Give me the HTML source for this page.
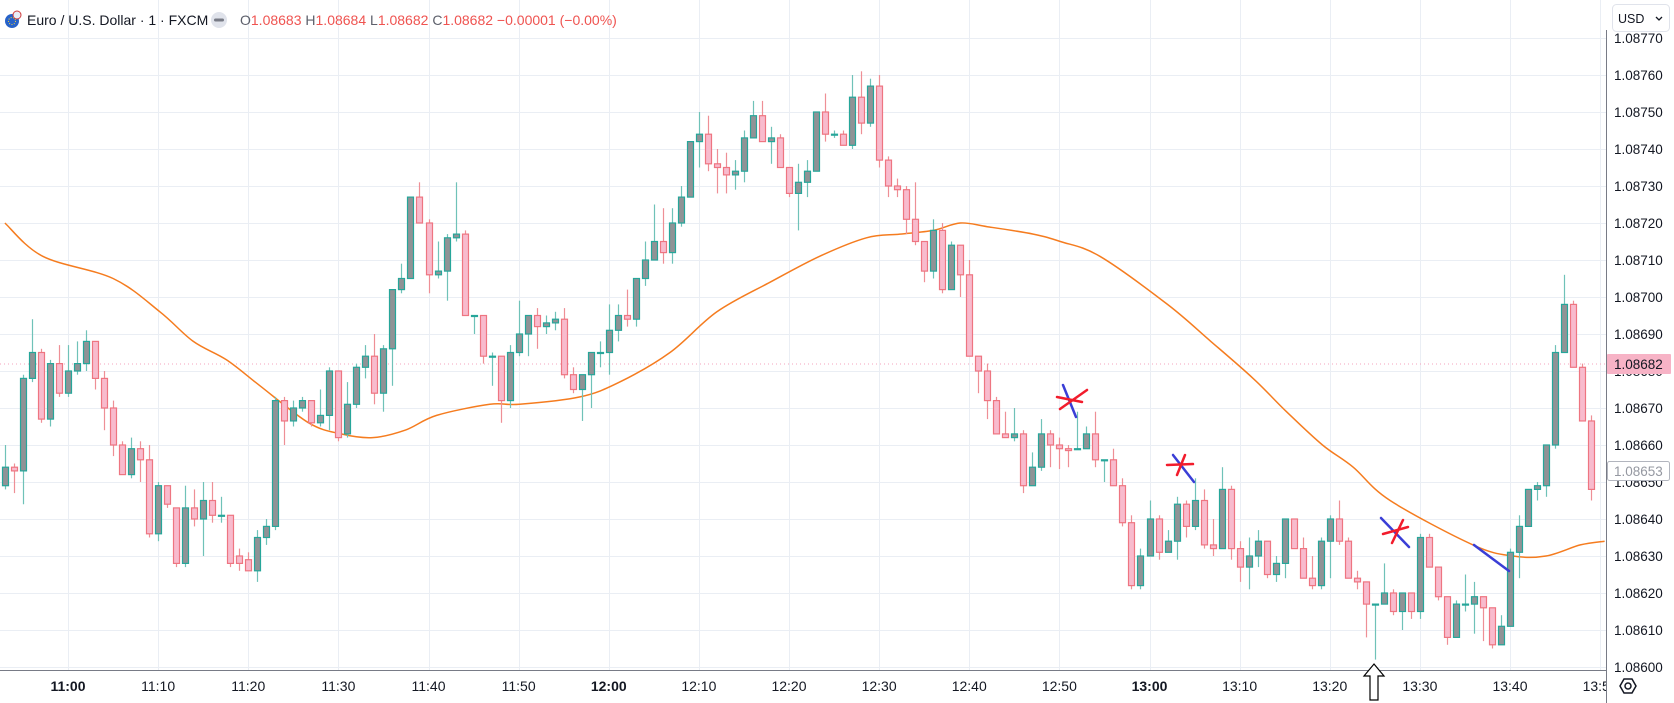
<!DOCTYPE html>
<html><head><meta charset="utf-8">
<style>
html,body{margin:0;padding:0;background:#fff;overflow:hidden;}
body{width:1674px;height:703px;position:relative;font-family:"Liberation Sans",sans-serif;}
svg text{font-family:"Liberation Sans",sans-serif;}
</style></head>
<body>
<svg id="chart" width="1674" height="703" viewBox="0 0 1674 703" xmlns="http://www.w3.org/2000/svg">
  <defs><clipPath id="plotclip"><rect x="0" y="0" width="1606" height="670"/></clipPath></defs>
  <g id="grid" clip-path="url(#plotclip)"></g>
  <line x1="0" y1="364" x2="1606" y2="364" stroke="#f4a3bd" stroke-width="1" stroke-dasharray="1,3"/>
  <g id="ma" clip-path="url(#plotclip)"></g>
  <g id="candles" clip-path="url(#plotclip)"></g>
  <g stroke-linecap="round">
    <line x1="1063" y1="385" x2="1076" y2="417" stroke="#3a3ed6" stroke-width="2.5"/>
    <line x1="1057" y1="397" x2="1082" y2="402" stroke="#f21c2c" stroke-width="2.5"/>
    <line x1="1087" y1="390" x2="1060" y2="409" stroke="#f21c2c" stroke-width="2.5"/>
    <line x1="1173" y1="455" x2="1194" y2="482" stroke="#3a3ed6" stroke-width="2.5"/>
    <line x1="1167" y1="465" x2="1193" y2="464" stroke="#f21c2c" stroke-width="2.5"/>
    <line x1="1185" y1="455" x2="1177" y2="475" stroke="#f21c2c" stroke-width="2.5"/>
    <line x1="1381" y1="518" x2="1409" y2="547" stroke="#3a3ed6" stroke-width="2.5"/>
    <line x1="1383" y1="534" x2="1408" y2="527" stroke="#f21c2c" stroke-width="2.5"/>
    <line x1="1403" y1="520" x2="1392" y2="543" stroke="#f21c2c" stroke-width="2.5"/>
    <line x1="1474" y1="545" x2="1509" y2="571" stroke="#3a3ed6" stroke-width="2.5"/>
  </g>
  <line x1="1606.5" y1="30" x2="1606.5" y2="703" stroke="#787b86" stroke-width="1"/>
  <line x1="0" y1="670.5" x2="1606" y2="670.5" stroke="#787b86" stroke-width="1"/>
  <g id="yaxis"></g>
  <g id="xaxis"></g>
  <g>
    <rect x="1607" y="354" width="64" height="20" fill="#f7b3c6" rx="1"/>
    <text x="1614" y="369" font-size="13.5" fill="#131722">1.08682</text>
  </g>
  <g>
    <rect x="1607.5" y="461.5" width="62" height="19" fill="#fff" stroke="#b2b5be" rx="2"/>
    <text x="1614" y="476" font-size="13.5" fill="#9598a1">1.08653</text>
  </g>
  <g>
    <rect x="1612.5" y="4.5" width="57" height="27" rx="4" fill="#fff" stroke="#e0e3eb"/>
    <text x="1618" y="23" font-size="12.5" fill="#131722">USD</text>
    <path d="M1656 17 l3 3 l3 -3" fill="none" stroke="#131722" stroke-width="1.3"/>
  </g>
  <g>
    <polygon points="1620,686 1624,679 1632,679 1636,686 1632,693 1624,693" fill="none" stroke="#131722" stroke-width="1.5"/>
    <circle cx="1628" cy="686" r="3" fill="none" stroke="#131722" stroke-width="1.5"/>
  </g>
  <g>
    <path d="M1374 664 L1384 676 L1378 676 L1378 700 L1370 700 L1370 676 L1364 676 Z" fill="#fff" stroke="#000" stroke-width="1.2"/>
  </g>
  <g>
    <g>
      <circle cx="12" cy="21" r="7" fill="#2762c9"/>
      <circle cx="17" cy="15" r="4" fill="#e8eef8" stroke="#d03b3b" stroke-width="1"/>
      <circle cx="12" cy="21" r="3.5" fill="none" stroke="#f5d23c" stroke-width="1" stroke-dasharray="1,1.5"/>
    </g>
    <text x="27" y="25" font-size="14" fill="#131722">Euro / U.S. Dollar · 1 · FXCM</text>
    <g>
      <circle cx="219" cy="20" r="8" fill="#e0e3eb"/>
      <rect x="214" y="18.5" width="10" height="3" rx="1.5" fill="#787b86"/>
    </g>
    <text x="240" y="25" font-size="14" fill="#ef5350"><tspan fill="#5d606b">O</tspan>1.08683 <tspan fill="#5d606b">H</tspan>1.08684 <tspan fill="#5d606b">L</tspan>1.08682 <tspan fill="#5d606b">C</tspan>1.08682 −0.00001 (−0.00%)</text>
  </g>
</svg>
<script>
const opens=[1.08649,1.08654,1.08653,1.08678,1.08685,1.08667,1.08682,1.08674,1.08680,1.08682,
1.08688,1.08678,1.08670,1.08660,1.08652,1.08659,1.08656,1.08636,1.08649,1.08643,
1.08628,1.08643,1.08640,1.08645,1.08641,1.08641,1.08630,1.08629,1.08626,1.08635,
1.08638,1.08672,1.086665,1.08670,1.08672,1.08666,1.08668,1.08680,1.08663,1.08671,
1.08681,1.08684,1.08674,1.08686,1.08702,1.08705,1.08727,1.08720,1.08706,1.08707,
1.08716,1.08717,1.08695,1.08695,1.08684,1.08684,1.08672,1.08685,1.08690,1.08695,
1.08692,1.08693,1.08694,1.08679,1.08675,1.08679,1.08685,1.08685,1.08691,1.08695,
1.08694,1.08705,1.08710,1.08715,1.08712,1.08720,1.08727,1.08742,1.08744,1.08736,
1.08735,1.08733,1.08734,1.08743,1.08749,1.08742,1.08743,1.08735,1.08728,1.08731,
1.08734,1.08750,1.08744,1.08744,1.08741,1.08754,1.08747,1.08757,1.08737,1.08730,
1.08729,1.08721,1.08715,1.08707,1.08718,1.08702,1.08714,1.08706,1.08684,1.08680,
1.08672,1.08663,1.08662,1.08663,1.08649,1.08654,1.08663,1.08660,1.08659,1.08659,
1.08659,1.08663,1.08656,1.08656,1.08649,1.08639,1.08622,1.08630,1.08640,1.08631,
1.08634,1.08644,1.08638,1.08645,1.08633,1.08632,1.08648,1.08632,1.08627,1.08630,
1.08634,1.08625,1.08628,1.08640,1.08632,1.08624,1.08622,1.08634,1.08640,1.08634,
1.08624,1.08623,1.08617,1.08617,1.08620,1.08615,1.08620,1.08615,1.08635,1.08627,
1.08619,1.08608,1.08617,1.08617,1.08619,1.08616,1.08606,1.08611,1.08631,1.08638,
1.08648,1.08649,1.08660,1.08685,1.08698,1.08681,1.086665];
const highs=[1.08660,1.08655,1.08679,1.08694,1.08686,1.08683,1.08687,1.08687,1.08688,1.08691,
1.08688,1.08680,1.08672,1.08661,1.08662,1.08661,1.08660,1.08650,1.08649,1.08643,
1.08649,1.08648,1.08650,1.08650,1.08646,1.08641,1.08632,1.08631,1.08637,1.08640,
1.08673,1.08673,1.08672,1.08673,1.08672,1.08675,1.08681,1.08680,1.08677,1.08682,
1.08687,1.08690,1.08687,1.08702,1.08709,1.08727,1.08731,1.08721,1.08715,1.08717,
1.08731,1.08718,1.08695,1.08695,1.08685,1.08684,1.08687,1.08699,1.08695,1.08697,
1.08695,1.08696,1.08697,1.08681,1.08679,1.08685,1.08688,1.08698,1.08698,1.08702,
1.08705,1.08715,1.08725,1.08724,1.08724,1.08730,1.08742,1.08750,1.08749,1.08740,
1.08739,1.08737,1.08745,1.08753,1.08753,1.08746,1.08744,1.08735,1.08736,1.08737,
1.08750,1.08755,1.08745,1.08745,1.08760,1.08761,1.08759,1.08760,1.08738,1.08732,
1.08730,1.08731,1.08715,1.08721,1.08720,1.08715,1.08714,1.08710,1.08684,1.08682,
1.08673,1.08669,1.08670,1.08664,1.08658,1.08667,1.08664,1.08662,1.08660,1.08669,
1.08665,1.08669,1.08656,1.08659,1.08651,1.08641,1.08632,1.08645,1.08641,1.08637,
1.08646,1.08645,1.08651,1.08648,1.08640,1.08654,1.08649,1.08634,1.08635,1.08637,
1.08634,1.08630,1.08640,1.08640,1.08635,1.08630,1.08635,1.08641,1.08645,1.08635,
1.08626,1.08623,1.08617,1.08628,1.08621,1.08620,1.08620,1.08636,1.08636,1.08627,
1.08619,1.08618,1.08625,1.08623,1.08619,1.08616,1.08614,1.08632,1.08641,1.08648,
1.08650,1.08660,1.08687,1.08706,1.08699,1.08682,1.08668];
const lows=[1.08648,1.08647,1.08644,1.08677,1.08666,1.08665,1.08673,1.08673,1.08679,1.08680,
1.08675,1.08664,1.08657,1.08652,1.08651,1.08650,1.08635,1.08634,1.08643,1.08627,
1.08627,1.08638,1.08630,1.08639,1.08639,1.08627,1.08626,1.08626,1.08623,1.08633,
1.08637,1.08660,1.08665,1.08669,1.08665,1.08665,1.08664,1.08661,1.08662,1.08670,
1.08678,1.08671,1.08669,1.08676,1.08701,1.08705,1.08720,1.08701,1.08705,1.08699,
1.08715,1.08695,1.08690,1.08682,1.08676,1.08666,1.08670,1.08684,1.08684,1.08686,
1.08690,1.08691,1.08678,1.08674,1.086665,1.08670,1.08681,1.08679,1.08688,1.08692,
1.08692,1.08703,1.08710,1.08709,1.08709,1.08719,1.08727,1.08735,1.08734,1.08728,
1.08728,1.08729,1.08731,1.08743,1.08742,1.08736,1.08735,1.08727,1.08718,1.08727,
1.08734,1.08742,1.08743,1.08741,1.08740,1.08744,1.08746,1.08735,1.08727,1.08727,
1.08717,1.08714,1.08704,1.08705,1.08701,1.08702,1.08700,1.08684,1.08674,1.08667,
1.08663,1.08662,1.08661,1.08647,1.08649,1.08653,1.08654,1.086535,1.08654,1.08659,
1.08659,1.08654,1.08650,1.08649,1.08638,1.08621,1.08621,1.08630,1.08629,1.08631,
1.08629,1.08635,1.08637,1.08632,1.08630,1.08632,1.08629,1.08623,1.08621,1.08627,
1.08624,1.08623,1.08624,1.08632,1.08624,1.08621,1.08621,1.08624,1.08633,1.08624,
1.08621,1.08608,1.08602,1.08617,1.08614,1.08610,1.08613,1.08613,1.08627,1.08618,
1.08606,1.08608,1.08615,1.08609,1.08607,1.08605,1.08606,1.08611,1.08624,1.08638,
1.08645,1.08646,1.08659,1.08685,1.08681,1.086665,1.08645];
const closes=[1.08654,1.08653,1.08678,1.08685,1.08667,1.08682,1.08674,1.08680,1.08682,1.08688,
1.08678,1.08670,1.08660,1.08652,1.08659,1.08656,1.08636,1.08649,1.08644,1.08628,
1.08643,1.08640,1.08645,1.08641,1.08641,1.08628,1.08628,1.08626,1.08635,1.08638,
1.08672,1.086665,1.08670,1.08672,1.08666,1.08668,1.08680,1.08662,1.08671,1.08681,
1.08684,1.08674,1.08686,1.08702,1.08705,1.08727,1.08720,1.08706,1.08707,1.08716,
1.08717,1.08695,1.08695,1.08684,1.08684,1.08672,1.08685,1.08690,1.08695,1.08692,
1.08693,1.08694,1.08679,1.08675,1.08679,1.08685,1.08685,1.08691,1.08695,1.08694,
1.08705,1.08710,1.08715,1.08712,1.08720,1.08727,1.08742,1.08744,1.08736,1.08735,
1.08733,1.08734,1.08743,1.08749,1.08742,1.08743,1.08735,1.08728,1.08731,1.08734,
1.08750,1.08744,1.08744,1.08741,1.08754,1.08747,1.08757,1.08737,1.08730,1.08729,
1.08721,1.08715,1.08707,1.08718,1.08702,1.08714,1.08706,1.08684,1.08680,1.08672,
1.08663,1.08662,1.08663,1.08649,1.08654,1.08663,1.08660,1.08659,1.086585,1.08659,
1.08663,1.08656,1.08656,1.08649,1.08639,1.08622,1.08630,1.08640,1.08631,1.08634,
1.08644,1.08638,1.08645,1.08633,1.08632,1.08648,1.08632,1.08627,1.08630,1.08634,
1.08625,1.08628,1.08640,1.08632,1.08624,1.08622,1.08634,1.08640,1.08634,1.08624,
1.08623,1.08617,1.08617,1.08620,1.08615,1.08620,1.08615,1.08635,1.08627,1.08619,
1.08608,1.08617,1.08617,1.08619,1.08616,1.08606,1.08611,1.08631,1.08638,1.08648,
1.08649,1.08660,1.08685,1.08698,1.08681,1.086665,1.08648];
// moving average: candle index and value
const maIndex=[0,4.2,12,17.2,20.9,24.6,28.3,33.7,37.3,40.8,44.4,47.9,53.8,57.1,63.8,68.2,73.8,79,84.9,90.4,95.6,99.3,103,106,109,114.1,117.1,121.5,129,133.8,138.5,142.2,146.2,149.6,153.7,162.9,167.3,171,174.8,177.5];
const maValues=[1.08720,1.08711,1.08705,1.08696,1.08688,1.08683,1.08676,1.08666,1.08663,1.08662,1.08664,1.08668,1.08671,1.08671,1.08673,1.08677,1.08685,1.08696,1.08704,1.08711,1.08716,1.08717,1.08718,1.08720,1.08719,1.08717,1.08715,1.08711,1.08698,1.08688,1.08678,1.08669,1.08660,1.08654,1.08645,1.08633,1.08630,1.08630,1.08633,1.08634];
const priceTicks=[1.08600,1.08610,1.08620,1.08630,1.08640,1.08650,1.08660,1.08670,1.08680,1.08690,1.08700,1.08710,1.08720,1.08730,1.08740,1.08750,1.08760,1.08770];
const timeTicks=["11:00","11:10","11:20","11:30","11:40","11:50","12:00","12:10","12:20","12:30","12:40","12:50","13:00","13:10","13:20","13:30","13:40","13:50"];
const firstCandleMinute=653; // 10:53

const NS="http://www.w3.org/2000/svg";
function yOf(p){return 667-(p-1.086)*100000*3.7;}
function xOfMinute(m){return 68+(m-660)*9.0125;}
function xOf(i){return xOfMinute(firstCandleMinute+i);}
function mk(tag,attrs,parent){const e=document.createElementNS(NS,tag);for(const k in attrs)e.setAttribute(k,attrs[k]);parent.appendChild(e);return e;}

const grid=document.getElementById('grid');
priceTicks.forEach(function(p){
  const l=mk('line',{x1:0,x2:1606,y1:Math.round(yOf(p))+0.5,y2:Math.round(yOf(p))+0.5,stroke:'#eaeef4','stroke-width':1},grid);
  
  
});
timeTicks.forEach(function(t){
  const m=parseInt(t.split(':')[0])*60+parseInt(t.split(':')[1]);
  const x=Math.round(xOfMinute(m))+0.5;
  const l=mk('line',{x1:x,x2:x,y1:0,y2:670,stroke:'#eaeef4','stroke-width':1},grid);
  
  
});

const yaxis=document.getElementById('yaxis');
priceTicks.forEach(function(p){
  const t=mk('text',{x:1614,y:yOf(p)+5,'font-size':13.5,fill:'#131722'},yaxis);
  t.textContent=p.toFixed(5);
  
  
});

const xaxis=document.getElementById('xaxis');
const xclip=mk('clipPath',{id:'xclip'},xaxis);
mk('rect',{x:0,y:670,width:1606,height:33},xclip);
const xg=mk('g',{'clip-path':'url(#xclip)'},xaxis);
timeTicks.forEach(function(t){
  const m=parseInt(t.split(':')[0])*60+parseInt(t.split(':')[1]);
  const bold=(t.split(':')[1]==='00');
  const e=mk('text',{x:xOfMinute(m),y:691,'font-size':14,fill:'#131722','text-anchor':'middle','font-weight':bold?'bold':'normal'},xg);
  e.textContent=t;
  
  
});

const ma=document.getElementById('ma');
const pts=maIndex.map(function(idx,k){return [xOf(idx),yOf(maValues[k])];});
let d='M'+pts[0][0].toFixed(1)+' '+pts[0][1].toFixed(1);
for(let k=0;k<pts.length-1;k++){
  const p0=pts[Math.max(0,k-1)],p1=pts[k],p2=pts[k+1],p3=pts[Math.min(pts.length-1,k+2)];
  const c1x=p1[0]+(p2[0]-p0[0])/6,c1y=p1[1]+(p2[1]-p0[1])/6;
  const c2x=p2[0]-(p3[0]-p1[0])/6,c2y=p2[1]-(p3[1]-p1[1])/6;
  d+=' C'+c1x.toFixed(1)+' '+c1y.toFixed(1)+' '+c2x.toFixed(1)+' '+c2y.toFixed(1)+' '+p2[0].toFixed(1)+' '+p2[1].toFixed(1);
}
const mp=mk('path',{d:d,fill:'none',stroke:'#f57c1f','stroke-width':1.5,'stroke-linejoin':'round'},ma);



const cg=document.getElementById('candles');
for(let i=0;i<opens.length;i++){
  const o=opens[i],c=closes[i],h=highs[i],l=lows[i];
  const up=c>=o;
  const x=Math.round(xOf(i));
  const g=mk('g',{},cg);
  
  
  mk('line',{x1:x+0.5,x2:x+0.5,y1:yOf(h),y2:yOf(l),stroke:up?'#6fc2b8':'#ee8f96','stroke-width':1.2},g);
  const top=yOf(Math.max(o,c)),bot=yOf(Math.min(o,c));
  const hgt=Math.max(1,bot-top);
  mk('rect',{x:x-2.5,y:top,width:6,height:hgt,fill:up?'#909396':'#f8bbcd',stroke:up?'#26a69a':'#ee7581','stroke-width':1.2},g);
}
</script>
</body></html>
